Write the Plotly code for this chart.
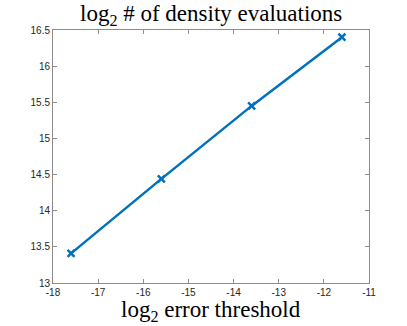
import plotly.graph_objects as go

# data
log2_threshold = [-17.6, -15.6, -13.6, -11.6]
log2_evals = [13.41, 14.44, 15.45, 16.40]

x_ticks = [-18, -17, -16, -15, -14, -13, -12, -11]
x_tick_text = ['-18', '-17', '-16', '-15', '-14', '-13', '-12', '-11']
y_ticks = [13, 13.5, 14, 14.5, 15, 15.5, 16, 16.5]
y_tick_text = ['13', '13.5', '14', '14.5', '15', '15.5', '16', '16.5']

LINE_BLUE = '#0072BD'
AXIS_GREY = '#8c8c8c'
SERIF = 'Liberation Serif, Times New Roman, serif'
SANS = 'Liberation Sans, Helvetica, Arial, sans-serif'

fig = go.Figure(go.Scatter(
    x=log2_threshold, y=log2_evals, mode='lines+markers',
    line=dict(color=LINE_BLUE, width=2.5),
    marker=dict(symbol='x-thin', size=7, color=LINE_BLUE,
                line=dict(color=LINE_BLUE, width=2.5)),
    showlegend=False,
))

axis_style = dict(
    showline=True, linecolor=AXIS_GREY, linewidth=1, mirror='ticks',
    ticks='inside', ticklen=4, tickcolor=AXIS_GREY, tickwidth=1,
    showgrid=False, zeroline=False,
    tickfont=dict(family=SANS, size=10, color='#262626'),
)

fig.update_xaxes(**axis_style, range=[-18, -11], tickvals=x_ticks,
                 ticktext=x_tick_text)
fig.update_yaxes(**axis_style, range=[13, 16.5], tickvals=y_ticks,
                 ticktext=y_tick_text)

fig.update_layout(
    width=407, height=326,
    margin=dict(l=53, r=38, t=30, b=43),
    paper_bgcolor='white', plot_bgcolor='white',
    annotations=[
        dict(text='log<sub>2</sub> # of density evaluations',
             font=dict(family=SERIF, size=23, color='#000'),
             xref='paper', yref='paper', x=0.5, y=1.0, yshift=15,
             xanchor='center', yanchor='middle', showarrow=False),
        dict(text='log<sub>2</sub> error threshold',
             font=dict(family=SERIF, size=23, color='#000'),
             xref='paper', yref='paper', x=0.5, y=0, yshift=-28,
             xanchor='center', yanchor='middle', showarrow=False),
    ],
)

# drop the default page margin so the figure sits at the window corner
fig.write_html('out.html', config={'displayModeBar': False},
               post_script="document.body.style.margin='0';")
